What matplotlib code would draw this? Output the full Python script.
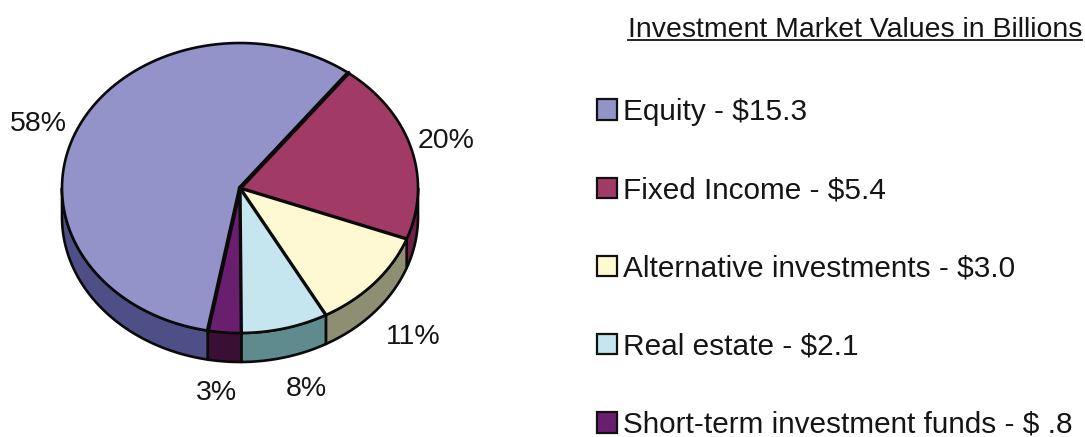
import numpy as np
import matplotlib
matplotlib.use("Agg")
import matplotlib.pyplot as plt
from matplotlib.patches import Polygon, Patch

categories = ["Equity", "Fixed Income", "Alternative investments", "Real estate", "Short-term investment funds"]
values = [15.3, 5.4, 3.0, 2.1, 0.8]
value_labels = ["$15.3", "$5.4", "$3.0", "$2.1", "$ .8"]
pct_labels = ["58%", "20%", "11%", "8%", "3%"]
top_colors = ["#9393C9", "#A13A64", "#FFF9D3", "#C6E6EF", "#6A1F6E"]
side_colors = ["#4F4F88", "#6E1F45", "#8E8E72", "#5F8A8E", "#3A0F35"]
label_xy = [(38, 124), (446, 141), (413, 337), (306, 389), (216, 393)]

CX, CY, RX, RY, DEPTH = 240, 188, 178, 145, 29
START = 190.4  # degrees clockwise from the top

plt.rcParams["font.family"] = ["Liberation Sans", "DejaVu Sans"]
fig = plt.figure(figsize=(10.85, 4.37), dpi=100)
ax = fig.add_axes([0, 0, 1, 1])
ax.set_xlim(0, 1085)
ax.set_ylim(437, 0)
ax.axis("off")


def rim(a0, a1, dy=0):
    t = np.radians(np.linspace(a0, a1, 200))
    return np.column_stack([CX + RX * np.sin(t), CY + dy - RY * np.cos(t)])


fracs = np.array(values) / sum(values) * 360
starts = START + np.concatenate([[0], np.cumsum(fracs)[:-1]])
ends = starts + fracs

# side wall: only the front half (90..270 degrees, modulo 360) is visible
for a0, a1, c in zip(starts, ends, side_colors):
    for shift in (0, 360, -360):
        lo, hi = max(a0 + shift, 90), min(a1 + shift, 270)
        if lo < hi:
            top = rim(lo, hi)
            bottom = rim(lo, hi, DEPTH)[::-1]
            ax.add_patch(Polygon(np.vstack([top, bottom]), closed=True, facecolor=c,
                                 edgecolor="#0a0a0a", linewidth=1.9, joinstyle="round", zorder=2))

# top face
for a0, a1, c in zip(starts, ends, top_colors):
    ax.add_patch(Polygon(np.vstack([[CX, CY], rim(a0, a1)]), closed=True, facecolor=c,
                         edgecolor="none", zorder=3))
    ax.plot(*rim(a0, a1).T, color="#0a0a0a", lw=1.9, zorder=4, solid_capstyle="round")
for a, lw in zip(ends, [3.2, 2.4, 2.4, 2.4, 3.0]):
    edge = rim(a, a)[0]
    ax.plot([CX, edge[0]], [CY, edge[1]], color="#0a0a0a", lw=lw, zorder=5, solid_capstyle="round")

for (x, y), s in zip(label_xy, pct_labels):
    ax.text(x, y, s, ha="center", va="center", fontsize=20.5, color="#151515")

title = ax.text(855, 30, "Investment Market Values in Billions", ha="center", va="center",
                fontsize=20.4, color="#151515")
ax.plot([628, 1082], [40, 40], color="#151515", lw=1.3)

handles = [Patch(facecolor=c, edgecolor="#111111", linewidth=1.6) for c in top_colors]
labels = [f"{n} - {v}" for n, v in zip(categories, value_labels)]
ax.legend(handles, labels, loc="upper left", bbox_to_anchor=(597 / 1085, 1 - 98 / 437),
          bbox_transform=fig.transFigure, frameon=False, fontsize=21.4, labelcolor="#151515",
          labelspacing=1.69, handlelength=0.67, handleheight=0.67, handletextpad=0.22,
          borderpad=0, borderaxespad=0)

fig.savefig("out.png", dpi=100)
